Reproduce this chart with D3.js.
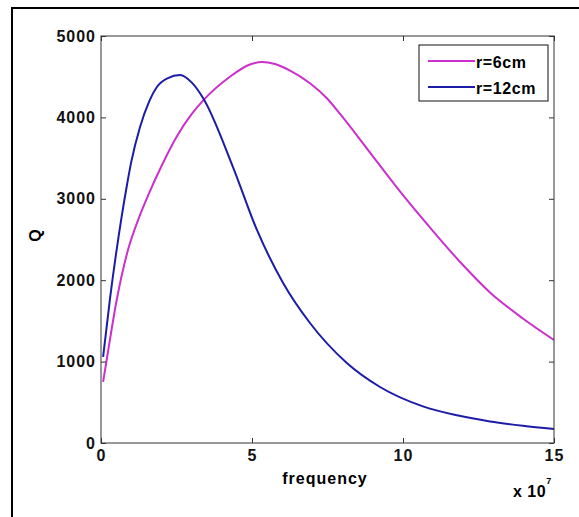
<!DOCTYPE html>
<html>
<head>
<meta charset="utf-8">
<script src="https://cdn.jsdelivr.net/npm/d3@7"></script>
<style>
  body { margin: 0; background: #fff; }
  svg { display: block; font-family: "Liberation Sans", Arial, sans-serif; }
</style>
</head>
<body>
<svg width="579" height="517"></svg>
<script>
// frequency in units of 1e7
const freq6 = [0.07, 0.24, 0.52, 0.9, 1.24, 1.57, 2.0, 2.5, 3.0, 3.4, 4.27, 4.93, 5.33, 5.76, 6.26, 6.92, 7.48, 7.91, 8.8, 9.9, 11.0, 12.0, 12.88, 13.97, 15];
const q6 = [750, 1142, 1757, 2380, 2750, 3050, 3400, 3760, 4040, 4215, 4500, 4650, 4681, 4656, 4575, 4420, 4235, 4045, 3620, 3090, 2600, 2180, 1850, 1530, 1265];

const freq12 = [0.07, 0.3, 0.52, 0.86, 1.0, 1.29, 1.6, 1.85, 2.2, 2.62, 3.0, 3.38, 4.37, 5.16, 6.03, 6.92, 8.14, 9.24, 10.66, 11.79, 12.88, 13.97, 15];
const q12 = [1057, 1780, 2380, 3170, 3450, 3880, 4200, 4373, 4480, 4521, 4430, 4238, 3390, 2620, 1966, 1474, 983, 688, 450, 340, 265, 212, 172];

const xTicks = [0, 5, 10, 15];
const yTicks = [0, 1000, 2000, 3000, 4000, 5000];

const series = [
    {name: 'r=6cm', color: '#cc2fcc', x: freq6, y: q6},
    {name: 'r=12cm', color: '#1c1ca8', x: freq12, y: q12}
];

const svg = d3.select('svg'),
    margin = {top: 36, right: 25, bottom: 74, left: 101},
    width = +svg.attr('width'),
    height = +svg.attr('height');

// outer figure frame (only left + top are inside the window)
svg.append('rect')
    .attr('x', 12).attr('y', 8)
    .attr('width', 600).attr('height', 600)
    .attr('fill', 'none')
    .attr('stroke', '#000')
    .attr('stroke-width', 2);

const x = d3.scaleLinear().domain([0, 15]).range([margin.left, width - margin.right]);
const y = d3.scaleLinear().domain([0, 5000]).range([height - margin.bottom, margin.top]);

const line = d3.line()
    .x(function (d) { return x(d[0]); })
    .y(function (d) { return y(d[1]); })
    .curve(d3.curveMonotoneX);

series.forEach(function (s) {
    svg.append('path')
        .datum(s.x.map(function (v, i) { return [v, s.y[i]]; }))
        .attr('fill', 'none')
        .attr('stroke', s.color)
        .attr('stroke-width', 2)
        .attr('stroke-linejoin', 'round')
        .attr('d', line);
});

// axes box
svg.append('rect')
    .attr('x', x(0)).attr('y', y(5000))
    .attr('width', x(15) - x(0)).attr('height', y(0) - y(5000))
    .attr('fill', 'none')
    .attr('stroke', '#333')
    .attr('stroke-width', 1);

const tickFont = function (sel) {
    sel.selectAll('text')
        .attr('font-size', 16)
        .attr('font-weight', 'bold')
        .attr('letter-spacing', 1)
        .attr('fill', '#111');
    sel.select('.domain').remove();
};

svg.append('g')
    .attr('transform', 'translate(0,' + y(0) + ')')
    .call(d3.axisBottom(x).tickValues(xTicks).tickSize(-5).tickPadding(7).tickFormat(d3.format('d')))
    .call(tickFont);
svg.append('g')
    .attr('transform', 'translate(0,' + y(5000) + ')')
    .call(d3.axisTop(x).tickValues(xTicks).tickSize(-5).tickFormat(''))
    .call(tickFont);
svg.append('g')
    .attr('transform', 'translate(' + x(0) + ',0)')
    .call(d3.axisLeft(y).tickValues(yTicks).tickSize(-5).tickPadding(5).tickFormat(d3.format('d')))
    .call(tickFont);
svg.append('g')
    .attr('transform', 'translate(' + x(15) + ',0)')
    .call(d3.axisRight(y).tickValues(yTicks).tickSize(-5).tickFormat(''))
    .call(tickFont);

svg.selectAll('.tick line').attr('stroke', '#333');

// axis labels
svg.append('text')
    .attr('x', 325).attr('y', 484)
    .attr('text-anchor', 'middle')
    .attr('font-size', 16).attr('font-weight', 'bold').attr('letter-spacing', 1)
    .text('frequency');

svg.append('text')
    .attr('transform', 'translate(41,' + y(2550) + ') rotate(-90)')
    .attr('text-anchor', 'middle')
    .attr('font-size', 16).attr('font-weight', 'bold')
    .text('Q');

const mult = svg.append('text')
    .attr('x', 513).attr('y', 497)
    .attr('font-size', 16).attr('font-weight', 'bold').attr('letter-spacing', 0.5);
mult.append('tspan').text('x 10');
mult.append('tspan').attr('dy', -13).attr('font-size', 9).text('7');

// legend
const legend = svg.append('g').attr('transform', 'translate(419,45)');
legend.append('rect')
    .attr('width', 129).attr('height', 56)
    .attr('fill', '#fff')
    .attr('stroke', '#111')
    .attr('stroke-width', 1);
series.forEach(function (s, i) {
    const gy = 16 + i * 26;
    legend.append('line')
        .attr('x1', 9).attr('x2', 56)
        .attr('y1', gy).attr('y2', gy)
        .attr('stroke', s.color)
        .attr('stroke-width', 2);
    legend.append('text')
        .attr('x', 57).attr('y', gy + 6.5)
        .attr('font-size', 16).attr('font-weight', 'bold').attr('letter-spacing', 0.6)
        .text(s.name);
});
</script>
</body>
</html>
